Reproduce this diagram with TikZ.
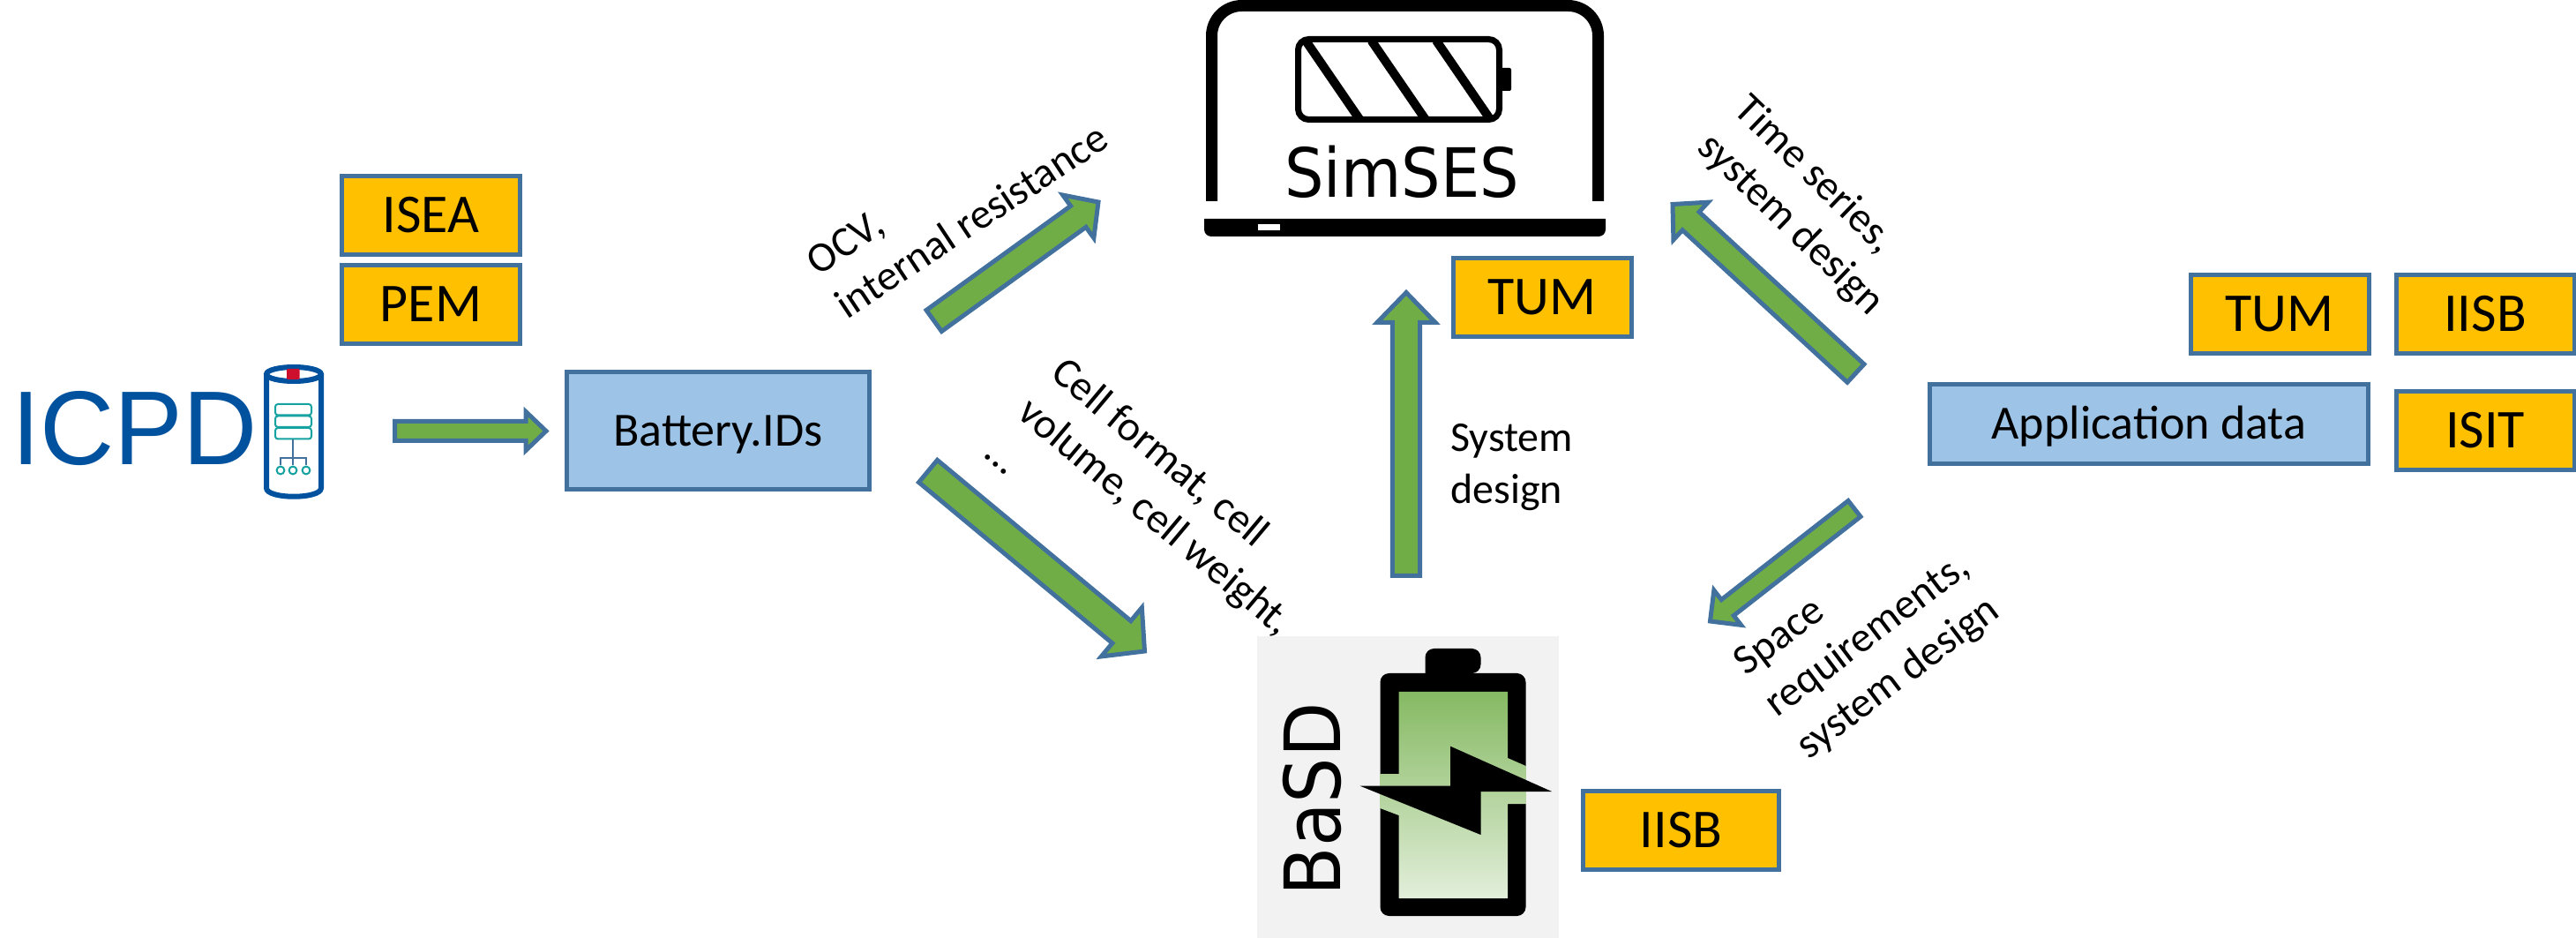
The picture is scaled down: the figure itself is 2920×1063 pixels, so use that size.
\documentclass[tikz,border=0pt]{standalone}
\usepackage{fontspec}
\setmainfont{Carlito}
\newfontfamily\logofont{DejaVu Sans}
\newfontfamily\icpdfont{Liberation Sans}
\usetikzlibrary{calc}

\definecolor{edgeblue}{HTML}{41719C}
\definecolor{flowgreen}{HTML}{70AD47}
\definecolor{orgorange}{HTML}{FFC000}
\definecolor{datablue}{HTML}{9DC3E6}
\definecolor{icpdblue}{HTML}{00519E}
\definecolor{icpdteal}{HTML}{17A2A2}
\definecolor{icpdred}{HTML}{CE0E2D}

\tikzset{
  orgbox/.style={draw=edgeblue,fill=orgorange,line width=2.5pt,inner sep=0pt,
    minimum width=101pt,minimum height=44.5pt,text height=20pt,text depth=0pt,
    font=\fontsize{31}{37}\selectfont},
  databox/.style={draw=edgeblue,fill=datablue,line width=2.5pt,inner sep=0pt,
    text height=17.5pt,text depth=0pt,font=\fontsize{27}{32}\selectfont},
  flowline/.style={draw=edgeblue,fill=flowgreen,line width=2.5pt,miter limit=10},
  linklabel/.style={inner sep=0pt,align=left,font=\fontsize{24}{29.5}\selectfont},
  logotext/.style={inner sep=0pt,text depth=0pt,font=\logofont},
}

% tail, tip, half shaft, half head, head length
\newcommand{\flowarrow}[5]{
  \coordinate (hb) at ($(#2)!#5!(#1)$);
  \draw[flowline] ($(#1)!#3!90:(#2)$) -- ($(hb)!#3!90:(#2)$) -- ($(hb)!#4!90:(#2)$)
    -- (#2) -- ($(hb)!#4!-90:(#2)$) -- ($(hb)!#3!-90:(#2)$) -- ($(#1)!#3!-90:(#2)$) -- cycle;
}

\begin{document}
\begin{tikzpicture}[x=0.5pt,y=-0.5pt]
  \useasboundingbox (0,0) rectangle (2920,1063);

  % organisations and data boxes
  \node[orgbox] (isea) at (488.5,244) {ISEA};
  \node[orgbox] (pem) at (488.5,345) {PEM};
  \node[orgbox] (tumsim) at (1748,337) {TUM};
  \node[orgbox,minimum width=111pt] (iisbbat) at (1905.5,940.5) {IISB};
  \node[orgbox] (tumapp) at (2584,356) {TUM};
  \node[orgbox] (iisbapp) at (2817,356) {IISB};
  \node[orgbox] (isit) at (2817,488) {ISIT};
  \node[databox,minimum width=171.5pt,minimum height=66.5pt] (batids) at (814,488) {Battery.IDs};
  \node[databox,minimum width=248.5pt,minimum height=45pt] (appdata) at (2436,480.5) {Application data};

  % ICPD logo
  \node[inner sep=0pt,text height=42.5pt,text depth=0pt,text=icpdblue,
    font=\fontsize{59.5}{60}\icpdfont] (icpd) at (152.5,484.5) {\scalebox{.98}[1]{ICPD}};
  \draw[icpdblue,line width=3pt,fill=white] (302,424) -- (302,553)
    .. controls (302,566) and (364,566) .. (364,553) -- (364,424);
  \draw[icpdblue,line width=3pt,fill=white] (333,424) ellipse [x radius=15.5pt,y radius=4pt];
  \fill[icpdred,rounded corners=0.5pt] (325,418) rectangle (339.5,430);
  \foreach \y in {458,471.5,485}
    \draw[icpdteal,line width=1pt,rounded corners=1.5pt] (312,\y) rectangle (353,{\y+12.5});
  \draw[edgeblue,line width=0.7pt] (332,498) -- (332,519);
  \draw[edgeblue,line width=0.7pt] (318,527) -- (318,519) -- (347,519) -- (347,527);
  \draw[edgeblue,line width=0.7pt] (332,519) -- (332,527);
  \foreach \x in {318,332,347}
    \draw[icpdteal,line width=1pt] (\x,533) circle [radius=2.2pt];

  % SimSES logo
  \draw[line width=6.5pt,rounded corners=17pt] (1373.5,228) -- (1373.5,6.5) -- (1811.5,6.5) -- (1811.5,228);
  \fill (1365,248) -- (1820,248) [rounded corners=4pt] -- (1820,268) -- (1365,268) [sharp corners] -- cycle;
  \fill[white] (1425.5,254) rectangle (1451,261);
  \draw[line width=3.5pt,rounded corners=6pt] (1471.5,44.5) rectangle (1699.5,135.5);
  \fill[rounded corners=1pt] (1700,77) rectangle (1713,103);
  \foreach \x in {1480,1554.5,1628}
    \draw[line width=5pt] (\x,46) -- ({\x+61},135);
  \node[logotext,text height=28.5pt] (simses) at (1589,195)
    {\fontsize{38.5}{40}\logofont\scalebox{.91}[1]{SimSES}};

  % BaSD logo
  \fill[black!5] (1425,721) rectangle (1767,1063);
  \fill[rounded corners=5pt] (1615.5,763) -- (1615.5,735) -- (1678.5,735) -- (1678.5,763) [sharp corners] -- cycle;
  \fill[rounded corners=5pt] (1564.5,763) rectangle (1729.5,1038);
  \shade[top color=flowgreen!85!white,bottom color=flowgreen!20!white]
    (1585.6,784) -- (1709,784) -- (1709,859) -- (1729.5,868) -- (1729.5,911) -- (1709,911)
    -- (1709,1018) -- (1585.6,1018) -- (1585.6,924) -- (1564.5,916) -- (1564.5,877) -- (1585.6,877) -- cycle;
  \fill (1541.7,890.7) -- (1644,890.7) -- (1644,845.7) -- (1759,897) -- (1678.5,897) -- (1678.5,946) -- cycle;
  \node[logotext,rotate=90,text height=32pt] (basd) at (1487,906)
    {\fontsize{44}{46}\logofont\scalebox{.92}[1]{BaSD}};

  % flows between the tools
  \coordinate (icpdout) at (447.5,488.5);
  \coordinate (batin) at (619,488.5);
  \coordinate (ocvtail) at (1058.7,363.5);
  \coordinate (ocvtip) at (1245,229);
  \coordinate (celltail) at (1052,534);
  \coordinate (celltip) at (1297.5,738);
  \coordinate (systail) at (1594,652.5);
  \coordinate (systip) at (1594,331.5);
  \coordinate (timetail) at (2103.5,423);
  \coordinate (timetip) at (1896,231.5);
  \coordinate (spacetail) at (2102,576.5);
  \coordinate (spacetip) at (1938.5,704);
  \flowarrow{icpdout}{batin}{5.5pt}{11pt}{11.5pt}
  \flowarrow{ocvtail}{ocvtip}{7.4pt}{15pt}{14pt}
  \flowarrow{celltail}{celltip}{8.2pt}{18pt}{17pt}
  \flowarrow{systail}{systip}{7.8pt}{16.5pt}{17pt}
  \flowarrow{timetail}{timetip}{7pt}{14.5pt}{14pt}
  \flowarrow{spacetail}{spacetip}{5.7pt}{12.5pt}{12.5pt}

  % labels of the flows
  \node[linklabel,rotate=33.5] (ocvlabel) at (1085,226) {OCV,\\internal resistance};
  \node[linklabel,rotate=-40] (celllabel) at (1311,584) {Cell format, cell\\volume, cell weight,\\...};
  \node[linklabel,anchor=west] (syslabel) at (1644,530) {System\\design};
  \node[linklabel,rotate=-44] (timelabel) at (2050,234) {Time series,\\system design};
  \node[linklabel,rotate=37] (spacelabel) at (2118,722) {Space\\requirements,\\system design};
\end{tikzpicture}
\end{document}
